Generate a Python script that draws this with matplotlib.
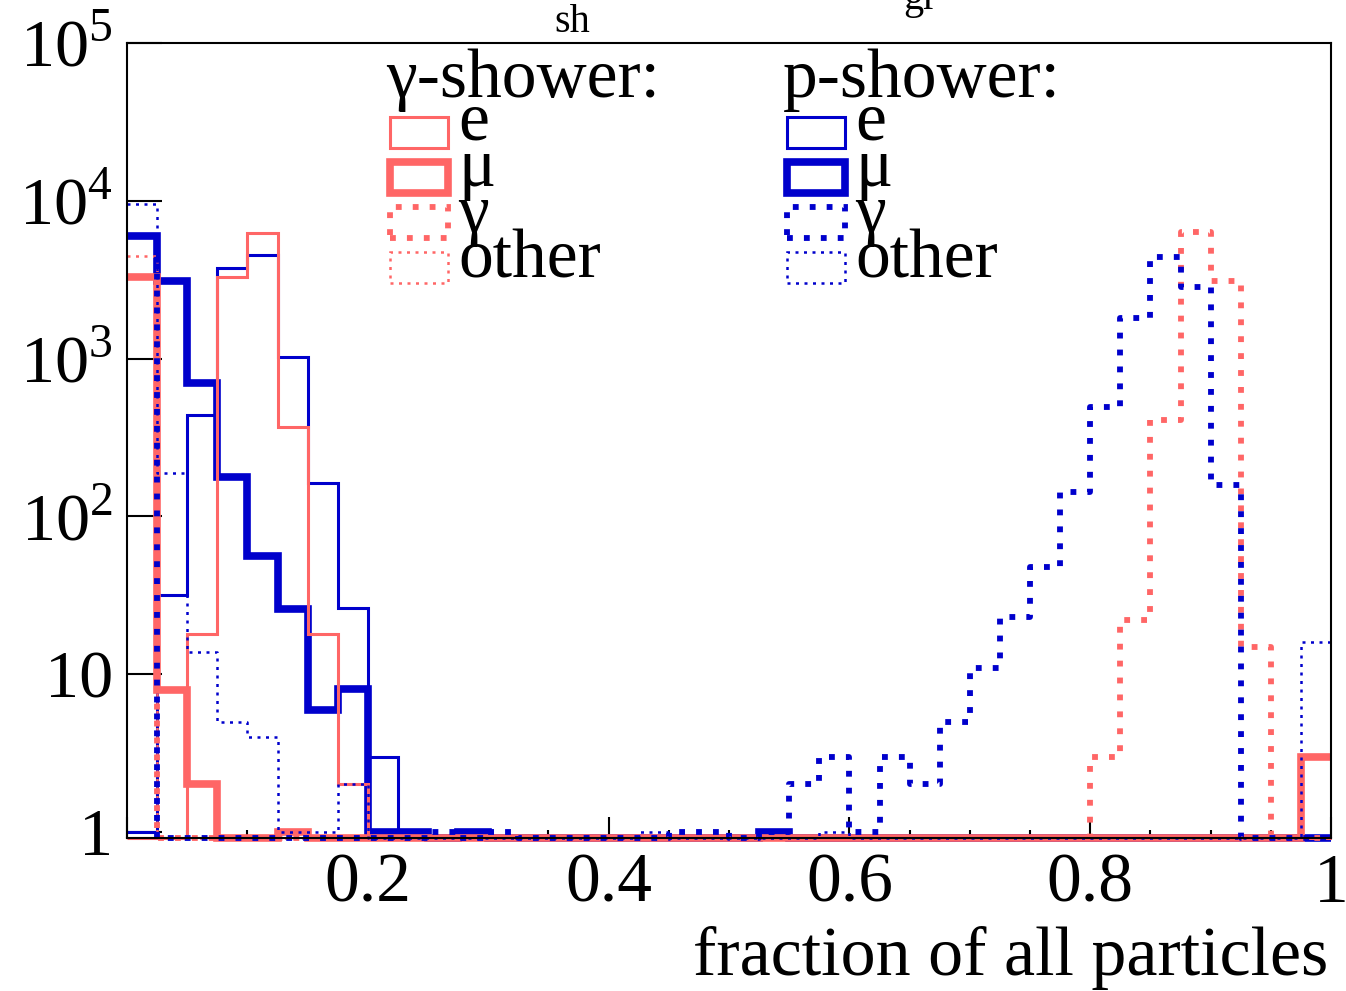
import numpy as np
import matplotlib.pyplot as plt
from matplotlib.patches import Rectangle

plt.rcParams['font.family'] = 'Liberation Serif'
plt.rcParams['mathtext.fontset'] = 'custom'
plt.rcParams['mathtext.rm'] = 'Liberation Serif'

# 40 bins of width 0.025 on the fraction axis
edges = np.linspace(0, 1, 41)

# gamma-shower (red)
red_e = [0, 0, 18, 3290, 6250, 369, 18, 2.0, 0, 0,
         0, 0, 0, 0, 0, 0, 0, 0, 0, 0,
         0, 0, 0, 0, 0, 0, 0, 0, 0, 0,
         0, 0, 0, 0, 0, 0, 0, 0, 0, 0]
red_mu = [3300, 7.9, 2.0, 0, 0, 1, 0, 0, 0, 0,
          0, 0, 0, 0, 0, 0, 0, 0, 0, 0,
          0, 0, 0, 0, 0, 0, 0, 0, 0, 0,
          0, 0, 0, 0, 0, 0, 0, 0, 0, 3.0]
red_gamma = [3300, 0, 0, 0, 0, 0, 0, 0, 0, 0,
             0, 0, 0, 0, 0, 0, 0, 0, 0, 0,
             0, 0, 0, 0, 0, 0, 0, 0, 0, 0,
             0, 0, 3.0, 22, 408, 6370, 3120, 14.9, 0, 0]
red_other = [4460, 0, 0, 0, 0, 0, 0, 0, 0, 0,
             0, 0, 0, 0, 0, 0, 0, 0, 0, 0,
             0, 0, 0, 0, 0, 0, 0, 0, 0, 0,
             0, 0, 0, 0, 0, 0, 0, 0, 0, 0]

# p-shower (blue)
blue_e = [1, 31.8, 439, 3750, 4540, 1023, 163, 26.3, 3.0, 0,
          0, 0, 0, 0, 0, 0, 0, 0, 0, 0,
          0, 0, 0, 0, 0, 0, 0, 0, 0, 0,
          0, 0, 0, 0, 0, 0, 0, 0, 0, 0]
blue_mu = [5980, 3100, 700, 178, 56, 25.9, 5.93, 8.06, 1, 1,
           0, 1, 0, 0, 0, 0, 0, 0, 0, 0,
           0, 1, 0, 0, 0, 0, 0, 0, 0, 0,
           0, 0, 0, 0, 0, 0, 0, 0, 0, 0]
blue_gamma = [5980, 0, 0, 0, 0, 0, 0, 0, 0, 0,
              1, 0, 1, 0, 0, 0, 0, 0, 1, 1,
              0, 1, 2.0, 3.0, 1, 3.0, 2.0, 5.0, 11, 22.9,
              48, 143, 496, 1800, 4390, 2830, 158, 0, 0, 0]
blue_other = [9550, 188, 13.8, 4.98, 4.0, 1, 1, 2.0, 0, 0,
              0, 0, 0, 0, 0, 0, 0, 1, 0, 0,
              0, 0, 0, 1, 0, 0, 0, 0, 0, 0,
              0, 0, 0, 0, 0, 0, 0, 0, 0, 16.0]

red = '#ff6666'
blue = '#0000cc'
ymin = 0.916

styles = {
    'e': dict(lw=2.2, ls='-'),
    'mu': dict(lw=5.5, ls='-'),
    'gamma': dict(lw=4.2, ls=(0, (1.0, 1.9))),
    'other': dict(lw=1.8, ls=(0, (1.2, 2.2))),
}

W, H = 1346, 991
fig = plt.figure(figsize=(W / 100, H / 100), dpi=100)
ax = fig.add_axes([127 / W, 1 - 838 / H, 1204 / W, 795 / H])


def draw(vals, color, st):
    v = np.asarray(vals, dtype=float)
    v = np.where(v > 0, v, ymin)
    xs = np.repeat(edges, 2)[1:-1]
    ys = np.repeat(v, 2)
    ax.plot(xs, ys, color=color, clip_on=False, solid_joinstyle='miter',
            solid_capstyle='butt', dash_capstyle='butt', **styles[st])


draw(blue_e, blue, 'e')
draw(blue_mu, blue, 'mu')
draw(red_e, red, 'e')
draw(red_mu, red, 'mu')
draw(red_gamma, red, 'gamma')
draw(red_other, red, 'other')
draw(blue_gamma, blue, 'gamma')
draw(blue_other, blue, 'other')

ax.set_xlim(0, 1)
ax.set_yscale('log')
ax.set_ylim(ymin, 1e5)
ax.set_xticks([0, 0.2, 0.4, 0.6, 0.8, 1.0])
ax.set_xticklabels(['', '0.2', '0.4', '0.6', '0.8', '1'])
ax.set_xticks(np.arange(0.05, 1.0, 0.05), minor=True)
ax.set_yticks([1, 10, 100, 1e3, 1e4, 1e5])
ax.set_yticklabels(['1', '10', '$10^{2}$', '$10^{3}$', '$10^{4}$', '$10^{5}$'])
ax.yaxis.set_minor_locator(plt.matplotlib.ticker.LogLocator(base=10, subs=np.arange(2, 10)))
ax.yaxis.set_minor_formatter(plt.NullFormatter())
ax.tick_params(axis='x', which='major', direction='in', length=15, width=1.5,
               labelsize=50, pad=11)
ax.tick_params(axis='x', which='minor', direction='in', length=6, width=1.5)
ax.tick_params(axis='y', which='major', direction='in', length=25, width=1.5,
               labelsize=49, pad=10)
ax.tick_params(axis='y', which='minor', direction='in', length=12, width=1.5)
for s in ax.spines.values():
    s.set_linewidth(1.5)

fig.text(1328 / W, 1 - 975 / H, 'fraction of all particles', ha='right',
         va='baseline', fontsize=50.4)

# pieces of the title that is cut off at the top edge
fig.text(572 / W, 1 - 32 / H, 'sh', ha='center', va='baseline', fontsize=29)
fig.text(920 / W, 1 - 9 / H, 'gr', ha='center', va='baseline', fontsize=29)

# hand-made legend: two columns of boxes and labels
entries = [('e', 'e'), ('μ', 'mu'), ('γ', 'gamma'), ('other', 'other')]
for title, color, bx in [('γ-shower:', red, 390), ('p-shower:', blue, 787)]:
    fig.text((bx - 4) / W, 1 - 97 / H, title, ha='left', va='baseline', fontsize=50)
    for i, (lab, st) in enumerate(entries):
        top = 117 + 45 * i
        rect = Rectangle((bx / W, 1 - (top + 31) / H), 58 / W, 31 / H,
                         transform=fig.transFigure, fill=False, edgecolor=color,
                         linewidth=styles[st]['lw'], linestyle=styles[st]['ls'],
                         joinstyle='miter')
        fig.add_artist(rect)
        fig.text((bx + 68) / W, 1 - (140 + 46 * i) / H, lab, ha='left',
                 va='baseline', fontsize=50)

fig.savefig('out.png', dpi=100)
